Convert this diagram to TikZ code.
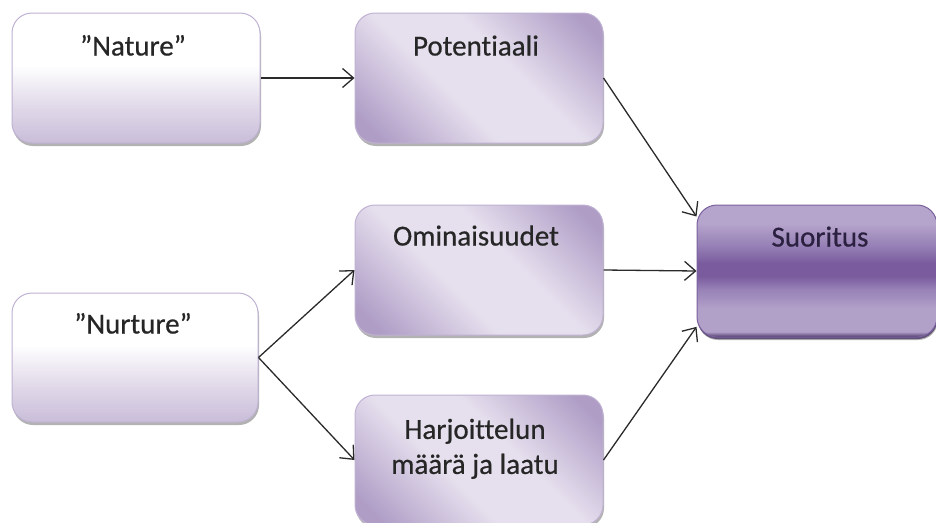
\documentclass[tikz,border=0pt]{standalone}
\usepackage{fontspec}
\setmainfont{Carlito}[Ligatures=NoCommon,FakeBold=0.6]
\usetikzlibrary{arrows.meta,calc,shadows}
\definecolor{lavdk}{HTML}{AF9DC6}
\definecolor{lavlt}{HTML}{E6E0EE}
\definecolor{natbot}{HTML}{C9BDD9}
\definecolor{natmid}{HTML}{E2DBEA}
\definecolor{boxedge}{HTML}{BFB2D2}
\definecolor{suotop}{HTML}{B5A4CB}
\definecolor{suomid}{HTML}{9882B7}
\definecolor{suodark}{HTML}{7A5C9E}
\definecolor{suolow}{HTML}{B1A0C8}
\definecolor{suoedge}{HTML}{4C3869}
\definecolor{suoline}{HTML}{7A619D}
\definecolor{txt}{HTML}{262626}
\definecolor{suotxt}{HTML}{2B2040}
\definecolor{arrowc}{HTML}{2A2A2A}
\pgfdeclareverticalshading{natshade}{100bp}{color(0bp)=(natbot); color(25bp)=(natbot); color(40bp)=(natmid); color(55bp)=(white); color(75bp)=(white); color(100bp)=(white)}
\pgfdeclarehorizontalshading{midshade}{100bp}{color(0bp)=(lavdk); color(20bp)=(lavdk); color(42bp)=(lavlt); color(58bp)=(lavlt); color(80bp)=(lavdk); color(100bp)=(lavdk)}
\pgfdeclareverticalshading{suoshade}{100bp}{color(0bp)=(suoedge); color(25bp)=(suoedge); color(27bp)=(suolow); color(36bp)=(suolow); color(43bp)=(suomid); color(48bp)=(suodark); color(53bp)=(suodark); color(60bp)=(suomid); color(68bp)=(suotop); color(75bp)=(suotop); color(100bp)=(suotop)}
\begin{document}
\begin{tikzpicture}[x=1pt,y=-1pt,
  box/.style={rectangle, rounded corners=20pt, inner sep=0pt, line width=1pt,
    minimum width=248pt, minimum height=130pt,
    drop shadow={shadow xshift=1pt, shadow yshift=-3pt, fill=black, opacity=0.3}},
  outerbox/.style={box, draw=boxedge, shading=natshade},
  midbox/.style={box, draw=boxedge, shading=midshade, shading angle=45},
  endbox/.style={box, draw=suoline, shading=suoshade,
    drop shadow={shadow xshift=0.5pt, shadow yshift=-2pt, fill=suoedge, opacity=0.8}},
  lbl/.style={inner sep=0pt, text=txt, font=\fontsize{29}{35}\selectfont, anchor=base},
  arr/.style={-{Straight Barb[length=11pt,width=19pt,line width=1.3pt]}, line width=1.3pt, draw=arrowc}]
\useasboundingbox (0,0) rectangle (936,522);
\node[outerbox] (nat) at (136,78) {};
\node[midbox] (pot) at (479,78) {};
\node[midbox] (omi) at (479,270) {};
\node[endbox, minimum width=240pt, minimum height=132pt] (suo) at (817,271) {};
\node[outerbox, minimum width=246pt, minimum height=129pt] (nur) at (135,357.5) {};
\node[midbox] (har) at (479,460) {};
\node[lbl] (natt) at ($(nat.north)+(-3,43)$) {”Nature”};
\node[lbl] (pott) at ($(pot.north)+(-3,43)$) {Potentiaali};
\node[lbl] (omit) at ($(omi.north)+(-3,41)$) {Ominaisuudet};
\node[lbl, text=suotxt] (suot) at ($(suo.north)+(3,42)$) {Suoritus};
\node[lbl] (nurt) at ($(nur.north)+(-2,41)$) {”Nurture”};
\node[lbl, anchor=north, align=center] (hart) at ($(har.north)+(-4,24)$) {Harjoittelun\\määrä ja laatu};
\draw[arr] (nat.east) -- (pot.west);
\draw[arr] (pot.east) -- ($(suo.north west)!0.09!(suo.south west)$);
\draw[arr] (omi.east) -- (suo.west);
\draw[arr] (nur.east) -- (omi.west);
\draw[arr] (nur.east) -- (har.west);
\draw[arr] (har.east) -- ($(suo.north west)!0.92!(suo.south west)$);
\end{tikzpicture}
\end{document}
